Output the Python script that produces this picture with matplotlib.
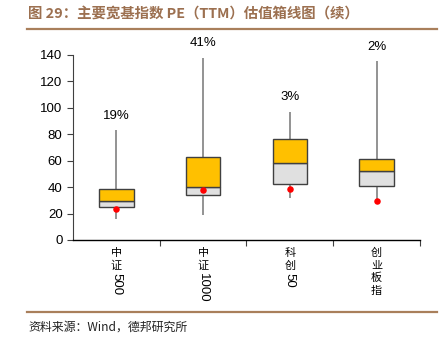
import matplotlib.pyplot as plt
from matplotlib.lines import Line2D

plt.rcParams['font.family'] = ['Liberation Sans', 'Noto Sans CJK SC', 'DejaVu Sans']

# PE(TTM) distribution per index
cjk_parts = [['中', '证'], ['中', '证'], ['科', '创'], ['创', '业', '板', '指']]
num_parts = ['500', '1000', '50', '']
whisker_lo = [16, 19, 32, 31]
q1 = [24.7, 33.8, 42.4, 40.9]
median = [29.3, 39.9, 58.5, 52.2]
q3 = [38.4, 63, 76.2, 61]
whisker_hi = [83.3, 138, 97, 135.5]
current = [23.7, 37.8, 38.9, 29.8]
pct_labels = ['19%', '41%', '3%', '2%']

brown = '#A97F5B'
edge = '#404040'

fig = plt.figure(figsize=(4.44, 3.47), dpi=100)
ax = fig.add_axes([0.1644, 0.3084, 0.7815, 0.5331])

xs = list(range(len(q1)))
w = 0.4
ax.vlines(xs, whisker_lo, whisker_hi, color='#808080', lw=1.2, zorder=1)
ax.bar(xs, [m - a for m, a in zip(median, q1)], bottom=q1, width=w,
       color='#E0E0E0', edgecolor=edge, lw=1.0, zorder=2)
ax.bar(xs, [b - m for b, m in zip(q3, median)], bottom=median, width=w,
       color='#FFC000', edgecolor=edge, lw=1.0, zorder=2)
ax.scatter(xs, current, s=22, color='#FF0000', zorder=3, linewidths=0)

for x, hi, lab in zip(xs, whisker_hi, pct_labels):
    ax.annotate(lab, (x, hi), xytext=(0, 6), textcoords='offset points',
                ha='center', va='bottom', fontsize=9.5, annotation_clip=False)

ax.set_xlim(-0.5, 3.5)
ax.set_ylim(0, 140)
ax.set_yticks(range(0, 141, 20))
ax.tick_params(axis='y', labelsize=9.5, length=4, width=0.8, color='#404040')
ax.set_xticks(xs)
ax.set_xticklabels([])
ax.tick_params(axis='x', which='major', length=0)
ax.set_xticks([0.5, 1.5, 2.5, 3.5], minor=True)
ax.tick_params(axis='x', which='minor', length=4, width=0.8, color='#404040')
for s in ['top', 'right']:
    ax.spines[s].set_visible(False)
ax.spines['left'].set_color('#404040')
ax.spines['left'].set_linewidth(0.8)
ax.spines['bottom'].set_color('black')
ax.spines['bottom'].set_linewidth(1.0)

# vertical category labels: stacked CJK characters, rotated digits
xt = ax.get_xaxis_transform()
for x, chars, num in zip(xs, cjk_parts, num_parts):
    y = -9.5
    for ch in chars:
        ax.annotate(ch, (x, 0), xycoords=xt, xytext=(0, y), textcoords='offset points',
                    ha='center', va='center', fontsize=8, family='Noto Sans CJK SC')
        y -= 9
    if num:
        ax.annotate(num, (x, 0), xycoords=xt, xytext=(0, y + 4), textcoords='offset points',
                    ha='center', va='top', fontsize=9.5, rotation=270)

# header and footer
fig.text(28 / 444, 1 - 15 / 347, '图 29：主要宽基指数 PE（TTM）估值箱线图（续）',
         fontsize=10.4, fontweight='bold', color='#9C7050', va='center',
         family=['Noto Sans CJK SC', 'Liberation Sans'])
fig.add_artist(Line2D([27 / 444, 437 / 444], [1 - 29 / 347] * 2, color=brown, lw=1.6))
fig.add_artist(Line2D([27 / 444, 437 / 444], [1 - 312 / 347] * 2, color=brown, lw=1.6))
fig.text(28 / 444, 1 - 327 / 347, '资料来源：Wind，德邦研究所', fontsize=8.6,
         color='#222222', va='center', family=['Noto Sans CJK SC', 'Liberation Sans'])

fig.savefig('out.png', dpi=100)
